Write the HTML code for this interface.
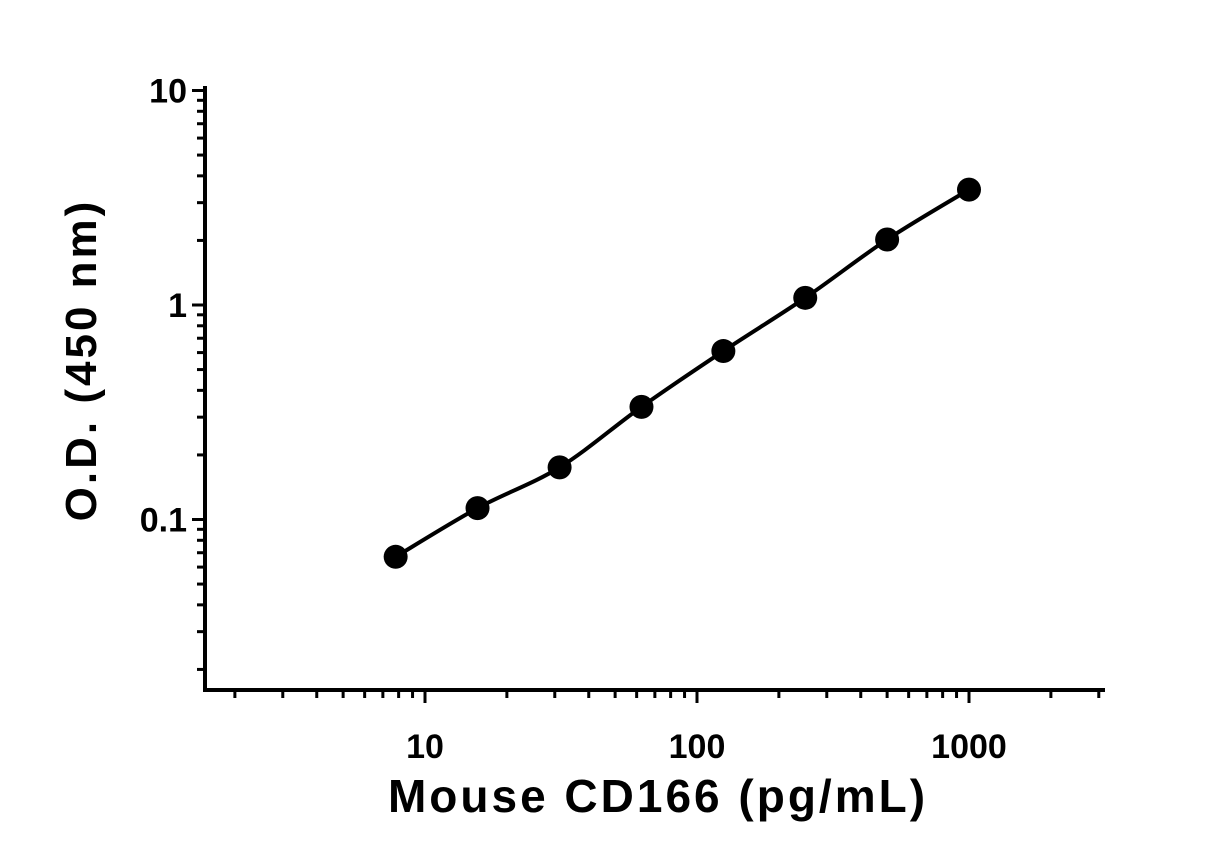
<!DOCTYPE html>
<html><head><meta charset="utf-8"><style>
html,body{margin:0;padding:0;background:#fff;}
svg{display:block;font-family:"Liberation Sans",Arial,sans-serif;}
</style></head><body>
<svg width="1230" height="861" viewBox="0 0 1230 861">
<g id="axes"></g><g id="plot"></g>
<text x="96" y="360" transform="rotate(-90 96 360)" text-anchor="middle" font-size="44" font-weight="bold" letter-spacing="3">O.D. (450 nm)</text>
<text x="658" y="812" text-anchor="middle" font-size="46" font-weight="bold" letter-spacing="3">Mouse CD166 (pg/mL)</text>
</svg>
<script>
const concentrations=[7.8,15.6,31.25,62.5,125,250,500,1000];
const odValues=[0.067,0.113,0.175,0.335,0.61,1.08,2.02,3.45];
const xTickLabels=["10","100","1000"];
const yTickLabels=["0.1","1","10"];
const NS="http://www.w3.org/2000/svg";
const X0=205,X1=1105,Y0=690,Y1=88;
function xs(v){return 425+272*(Math.log10(v)-1);}
function ys(v){return 305-214.5*Math.log10(v);}
function mk(t,a,p){const e=document.createElementNS(NS,t);for(const k in a)e.setAttribute(k,a[k]);p.appendChild(e);return e;}
const ax=document.getElementById('axes'),pl=document.getElementById('plot');
let e=mk('line',{x1:X0,y1:Y1-2,x2:X0,y2:Y0+2,stroke:'#000','stroke-width':4},ax);

e=mk('line',{x1:X0-2,y1:Y0,x2:X1,y2:Y0,stroke:'#000','stroke-width':4},ax);

for(let d=-2;d<=0;d++){for(let m=1;m<=9;m++){const v=m*Math.pow(10,d);const y=ys(v);if(y>Y0+1||y<Y1-1)continue;
const t=mk('line',{x1:X0-(m===1?13:8),y1:y,x2:X0,y2:y,stroke:'#000','stroke-width':3},ax);
}}
const t10=mk('line',{x1:X0-13,y1:ys(10),x2:X0,y2:ys(10),stroke:'#000','stroke-width':3},ax);

yTickLabels.forEach(s=>{const l=mk('text',{x:X0-18,y:ys(parseFloat(s))+12,'text-anchor':'end','font-size':34,'font-weight':'bold'},ax);l.textContent=s;
});
for(let d=0;d<=3;d++){for(let m=1;m<=9;m++){const v=m*Math.pow(10,d);const x=xs(v);if(x<X0+2||x>X1+1)continue;
const t=mk('line',{x1:x,y1:Y0,x2:x,y2:Y0+(m===1?13:8),stroke:'#000','stroke-width':3},ax);
}}
xTickLabels.forEach(s=>{const l=mk('text',{x:xs(parseFloat(s)),y:Y0+68,'text-anchor':'middle','font-size':34,'font-weight':'bold'},ax);l.textContent=s;
});
const P=concentrations.map((c,i)=>[xs(c),ys(odValues[i])]);
let d='M'+P[0][0]+','+P[0][1];
for(let i=0;i<P.length-1;i++){const p0=P[Math.max(0,i-1)],p1=P[i],p2=P[i+1],p3=P[Math.min(P.length-1,i+2)];
d+=` C${p1[0]+(p2[0]-p0[0])/6},${p1[1]+(p2[1]-p0[1])/6} ${p2[0]-(p3[0]-p1[0])/6},${p2[1]-(p3[1]-p1[1])/6} ${p2[0]},${p2[1]}`;}
const c=mk('path',{d:d,fill:'none',stroke:'#000','stroke-width':4},pl);

P.forEach(p=>{const pt=mk('circle',{cx:p[0],cy:p[1],r:12,fill:'#000'},pl);
});
</script>
</body></html>
